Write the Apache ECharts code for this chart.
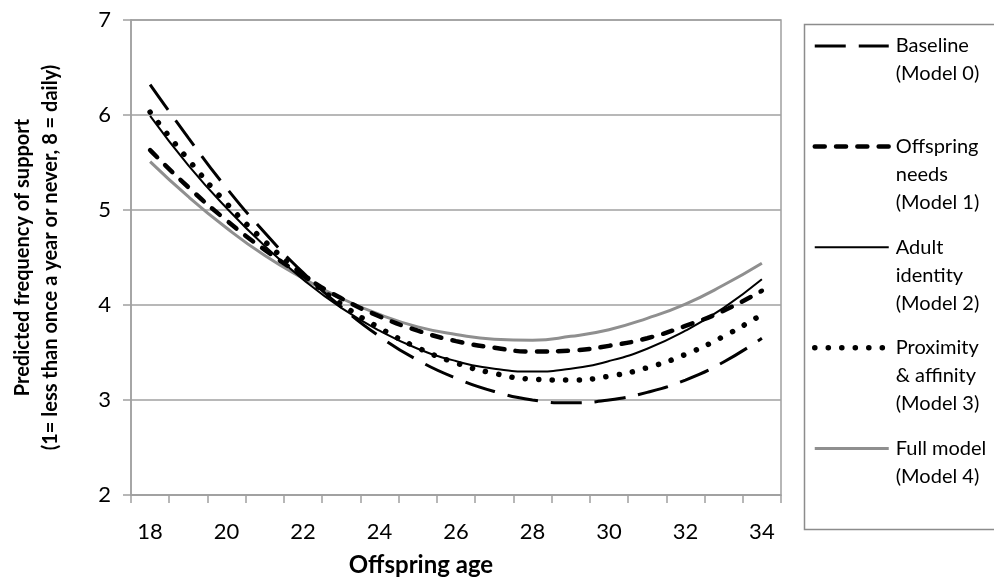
<!DOCTYPE html>
<html>
<head>
<meta charset="utf-8">
<script src="https://cdn.jsdelivr.net/npm/echarts@6/dist/echarts.min.js"></script>
<style>
html,body{margin:0;padding:0;background:#fff;}
#chart{width:994px;height:582px;}
</style>
</head>
<body>
<div id="chart"></div>
<script>
// Categories (offspring age)
const ages = ['18','19','20','21','22','23','24','25','26','27','28','29','30','31','32','33','34'];
// Series values
const baseline   = [6.32,5.76,5.23,4.76,4.34,3.98,3.67,3.42,3.23,3.09,3.00,2.97,3.00,3.08,3.21,3.40,3.65];
const offspring  = [5.63,5.24,4.89,4.58,4.31,4.07,3.88,3.73,3.62,3.55,3.51,3.52,3.57,3.65,3.78,3.94,4.15];
const adult      = [5.99,5.47,5.02,4.62,4.27,3.97,3.73,3.54,3.41,3.33,3.30,3.33,3.41,3.54,3.73,3.97,4.27];
const proximity  = [6.03,5.53,5.07,4.67,4.32,4.01,3.76,3.55,3.39,3.28,3.22,3.21,3.25,3.34,3.48,3.67,3.90];
const fullModel  = [5.51,5.14,4.81,4.52,4.28,4.07,3.90,3.77,3.69,3.64,3.63,3.67,3.74,3.86,4.01,4.21,4.44];
// Series names
const names = ['Baseline\n(Model 0)','Offspring\nneeds\n(Model 1)','Adult\nidentity\n(Model 2)','Proximity\n& affinity\n(Model 3)','Full model\n(Model 4)'];
// Axis
const yMin = 2, yMax = 7, yStep = 1;

const FONT = 'Lato';
const GRID = '#a0a0a0';
const chart = echarts.init(document.getElementById('chart'), null, {renderer: 'canvas'});

// Pad each legend label to 5 lines so its first line sits level with the icon
function legendText(name) {
  const n = name.split('\n').length;
  return '\n\n' + name + '\n'.repeat(3 - n);
}

const option = {
  animation: false,
  backgroundColor: '#ffffff',
  grid: {left: 131, right: 213, top: 20, bottom: 87, show: true, borderColor: GRID, borderWidth: 1.5, backgroundColor: 'transparent'},
  xAxis: {
    type: 'category',
    data: ages,
    boundaryGap: true,
    name: 'Offspring age',
    nameLocation: 'middle',
    nameGap: 58,
    nameTextStyle: {fontFamily: FONT, fontSize: 24, fontWeight: 'bold', color: '#000', padding: [0, 70, 0, 0]},
    axisLine: {show: true, lineStyle: {color: GRID, width: 1.5}},
    axisTick: {show: true, interval: 0, length: 8, alignWithLabel: false, lineStyle: {color: GRID, width: 1.5}},
    axisLabel: {interval: 1, margin: 26, fontFamily: FONT, fontSize: 22, color: '#000'},
    splitLine: {show: false}
  },
  yAxis: {
    type: 'value',
    min: yMin, max: yMax, interval: yStep,
    name: 'Predicted frequency of support\n(1= less than once a year or never, 8 = daily)',
    nameLocation: 'middle',
    nameRotate: 90,
    nameGap: 66,
    nameTextStyle: {fontFamily: FONT, fontSize: 20, fontWeight: 'bold', color: '#000', lineHeight: 28},
    axisLine: {show: true, lineStyle: {color: GRID, width: 1.5}},
    axisTick: {show: true, length: 8, lineStyle: {color: GRID, width: 1.5}},
    axisLabel: {margin: 20, fontFamily: FONT, fontSize: 22, color: '#000'},
    splitLine: {show: true, lineStyle: {color: GRID, width: 1.5}}
  },
  legend: {
    orient: 'vertical',
    left: 812,
    top: -24,
    padding: 0,
    itemWidth: 74,
    itemHeight: 14,
    itemGap: -39.4,
    selectedMode: false,
    formatter: legendText,
    itemStyle: {opacity: 0},
    lineStyle: {width: 'inherit', type: 'inherit', cap: 'inherit', opacity: 1},
    textStyle: {fontFamily: FONT, fontSize: 20, lineHeight: 28, color: '#000', backgroundColor: 'rgba(0,0,0,0)', padding: [0, 0, 0, 2]},
    data: names
  },
  graphic: [{
    type: 'rect', left: 802, top: 22, z: 0,
    shape: {width: 191, height: 505},
    style: {fill: 'none', stroke: '#8c8c8c', lineWidth: 1.5}
  }],
  series: [
    {name: names[0], type: 'line', data: baseline, symbol: 'none', smooth: true, z: 5,
     lineStyle: {color: '#000', width: 3, type: [31, 13], cap: 'butt'}, itemStyle: {color: '#000'}},
    {name: names[1], type: 'line', data: offspring, symbol: 'none', smooth: true, z: 4,
     lineStyle: {color: '#000', width: 4.5, type: [10, 11.3], cap: 'round'}, itemStyle: {color: '#000'}},
    {name: names[2], type: 'line', data: adult, symbol: 'none', smooth: true, z: 3,
     lineStyle: {color: '#000', width: 2}, itemStyle: {color: '#000'}},
    {name: names[3], type: 'line', data: proximity, symbol: 'none', smooth: true, z: 6,
     lineStyle: {color: '#000', width: 5.5, type: [0.1, 13.4], cap: 'round'}, itemStyle: {color: '#000'}},
    {name: names[4], type: 'line', data: fullModel, symbol: 'none', smooth: true, z: 2,
     lineStyle: {color: '#8f8f8f', width: 3}, itemStyle: {color: '#8f8f8f'}}
  ]
};
chart.setOption(option);
</script>
</body>
</html>
